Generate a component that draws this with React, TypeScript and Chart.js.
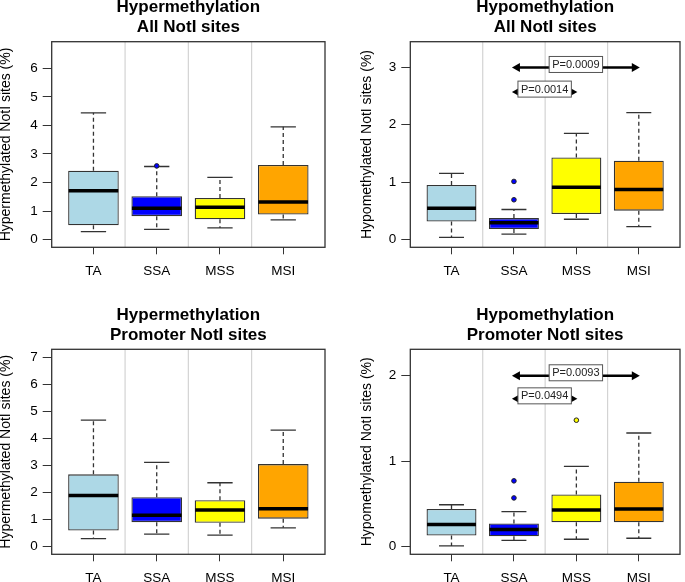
import React, { useEffect, useRef } from 'react';
import { Chart, registerables } from 'chart.js';

Chart.register(...registerables);

const FONT = '"Liberation Sans", Arial, Helvetica, sans-serif';

const CATEGORIES = ['TA', 'SSA', 'MSS', 'MSI'];
const BOX_COLORS = ['#ADD8E6', '#0000FF', '#FFFF00', '#FFA500'];

// Hypermethylation – All NotI sites
const HYPER_ALL_LOW = [0.28, 0.36, 0.41, 0.69];
const HYPER_ALL_Q1 = [0.5, 0.82, 0.71, 0.88];
const HYPER_ALL_MED = [1.71, 1.1, 1.13, 1.32];
const HYPER_ALL_Q3 = [2.41, 1.52, 1.46, 2.61];
const HYPER_ALL_HIGH = [4.44, 2.56, 2.18, 3.95];
const HYPER_ALL_OUT = [[], [2.58], [], []];
const HYPER_ALL_TICKS = [0, 1, 2, 3, 4, 5, 6];
const HYPER_ALL_RANGE = [-0.27, 6.93];

// Hypomethylation – All NotI sites
const HYPO_ALL_LOW = [0.035, 0.09, 0.35, 0.22];
const HYPO_ALL_Q1 = [0.31, 0.18, 0.44, 0.5];
const HYPO_ALL_MED = [0.54, 0.29, 0.91, 0.87];
const HYPO_ALL_Q3 = [0.95, 0.37, 1.43, 1.37];
const HYPO_ALL_HIGH = [1.15, 0.52, 1.85, 2.21];
const HYPO_ALL_OUT = [[], [1.01, 0.69], [], []];
const HYPO_ALL_TICKS = [0, 1, 2, 3];
const HYPO_ALL_RANGE = [-0.14, 3.45];
const HYPO_ALL_P_FROM = ['SSA', 'SSA'];
const HYPO_ALL_P_TO = ['MSI', 'MSS'];
const HYPO_ALL_P_Y = [3.0, 2.57];
const HYPO_ALL_P_LABEL = ['P=0.0009', 'P=0.0014'];

// Hypermethylation – Promoter NotI sites
const HYPER_PROM_LOW = [0.3, 0.47, 0.43, 0.7];
const HYPER_PROM_Q1 = [0.6, 0.91, 0.89, 1.04];
const HYPER_PROM_MED = [1.9, 1.17, 1.36, 1.41];
const HYPER_PROM_Q3 = [2.68, 1.83, 1.72, 3.06];
const HYPER_PROM_HIGH = [4.69, 3.12, 2.37, 4.32];
const HYPER_PROM_OUT = [[], [], [], []];
const HYPER_PROM_TICKS = [0, 1, 2, 3, 4, 5, 6, 7];
const HYPER_PROM_RANGE = [-0.28, 7.31];

// Hypomethylation – Promoter NotI sites
const HYPO_PROM_LOW = [0.008, 0.074, 0.086, 0.098];
const HYPO_PROM_Q1 = [0.13, 0.12, 0.285, 0.285];
const HYPO_PROM_MED = [0.26, 0.2, 0.43, 0.44];
const HYPO_PROM_Q3 = [0.44, 0.27, 0.61, 0.76];
const HYPO_PROM_HIGH = [0.49, 0.41, 0.94, 1.33];
const HYPO_PROM_OUT = [[], [0.77, 0.57], [1.48], []];
const HYPO_PROM_TICKS = [0, 1, 2];
const HYPO_PROM_RANGE = [-0.09, 2.31];
const HYPO_PROM_P_FROM = ['SSA', 'SSA'];
const HYPO_PROM_P_TO = ['MSI', 'MSS'];
const HYPO_PROM_P_Y = [2.0, 1.73];
const HYPO_PROM_P_LABEL = ['P=0.0093', 'P=0.0494'];

const HYPER_Y_TITLE = 'Hypermethylated NotI sites (%)';
const HYPO_Y_TITLE = 'Hypomethylated NotI sites (%)';

type Panel = {
  title: string[];
  yTitle: string;
  low: number[];
  q1: number[];
  med: number[];
  q3: number[];
  high: number[];
  out: number[][];
  ticks: number[];
  range: number[];
  pFrom?: string[];
  pTo?: string[];
  pY?: number[];
  pLabel?: string[];
  canvas: { x: number; y: number; w: number; h: number };
  plot: { l: number; t: number; r: number; b: number };
  titleMid: number;
  yTitleX: number;
};

const PANELS: Panel[] = [
  {
    title: ['Hypermethylation', 'All NotI sites'],
    yTitle: HYPER_Y_TITLE,
    low: HYPER_ALL_LOW, q1: HYPER_ALL_Q1, med: HYPER_ALL_MED, q3: HYPER_ALL_Q3, high: HYPER_ALL_HIGH,
    out: HYPER_ALL_OUT, ticks: HYPER_ALL_TICKS, range: HYPER_ALL_RANGE,
    canvas: { x: 0, y: -4, w: 342, h: 294 },
    plot: { l: 51.7, t: 41.7, r: 325, b: 247.3 },
    titleMid: 7.5,
    yTitleX: 6.5,
  },
  {
    title: ['Hypomethylation', 'All NotI sites'],
    yTitle: HYPO_Y_TITLE,
    low: HYPO_ALL_LOW, q1: HYPO_ALL_Q1, med: HYPO_ALL_MED, q3: HYPO_ALL_Q3, high: HYPO_ALL_HIGH,
    out: HYPO_ALL_OUT, ticks: HYPO_ALL_TICKS, range: HYPO_ALL_RANGE,
    pFrom: HYPO_ALL_P_FROM, pTo: HYPO_ALL_P_TO, pY: HYPO_ALL_P_Y, pLabel: HYPO_ALL_P_LABEL,
    canvas: { x: 342, y: -4, w: 343, h: 294 },
    plot: { l: 410.3, t: 41.7, r: 684.7, b: 247.3 },
    titleMid: 7.5,
    yTitleX: 367,
  },
  {
    title: ['Hypermethylation', 'Promoter NotI sites'],
    yTitle: HYPER_Y_TITLE,
    low: HYPER_PROM_LOW, q1: HYPER_PROM_Q1, med: HYPER_PROM_MED, q3: HYPER_PROM_Q3, high: HYPER_PROM_HIGH,
    out: HYPER_PROM_OUT, ticks: HYPER_PROM_TICKS, range: HYPER_PROM_RANGE,
    canvas: { x: 0, y: 290, w: 342, h: 292 },
    plot: { l: 51.7, t: 349.3, r: 325, b: 554.3 },
    titleMid: 315.6,
    yTitleX: 6.5,
  },
  {
    title: ['Hypomethylation', 'Promoter NotI sites'],
    yTitle: HYPO_Y_TITLE,
    low: HYPO_PROM_LOW, q1: HYPO_PROM_Q1, med: HYPO_PROM_MED, q3: HYPO_PROM_Q3, high: HYPO_PROM_HIGH,
    out: HYPO_PROM_OUT, ticks: HYPO_PROM_TICKS, range: HYPO_PROM_RANGE,
    pFrom: HYPO_PROM_P_FROM, pTo: HYPO_PROM_P_TO, pY: HYPO_PROM_P_Y, pLabel: HYPO_PROM_P_LABEL,
    canvas: { x: 342, y: 290, w: 343, h: 292 },
    plot: { l: 410.3, t: 349.3, r: 684.7, b: 554.3 },
    titleMid: 315.6,
    yTitleX: 367,
  },
];

const TITLE_SIZE = 17;
const TITLE_LH = 20;
const Y_TITLE_SIZE = 14;
const BOX_DATASET_INDEX = 1;

function makePlugin(p: Panel) {
  return {
    id: 'boxExtras',
    beforeDatasetsDraw(chart: any) {
      const { ctx, chartArea: a } = chart;
      const x = chart.scales.x;
      const y = chart.scales.y;
      ctx.save();
      ctx.strokeStyle = '#d3d3d3';
      ctx.lineWidth = 1.2;
      for (let i = 0; i < CATEGORIES.length - 1; i++) {
        const px = x.getPixelForValue(i + 1.5);
        ctx.beginPath();
        ctx.moveTo(px, a.top);
        ctx.lineTo(px, a.bottom);
        ctx.stroke();
      }
      const meta = chart.getDatasetMeta(BOX_DATASET_INDEX);
      ctx.strokeStyle = '#333';
      ctx.lineWidth = 1.3;
      for (let i = 0; i < CATEGORIES.length; i++) {
        const px = x.getPixelForValue(i + 1);
        const w = meta.data[i].width;
        const yLo = y.getPixelForValue(p.low[i]);
        const yHi = y.getPixelForValue(p.high[i]);
        const yQ1 = y.getPixelForValue(p.q1[i]);
        const yQ3 = y.getPixelForValue(p.q3[i]);
        ctx.setLineDash([4, 3]);
        ctx.beginPath();
        ctx.moveTo(px, yQ3);
        ctx.lineTo(px, yHi);
        ctx.moveTo(px, yQ1);
        ctx.lineTo(px, yLo);
        ctx.stroke();
        ctx.setLineDash([]);
        ctx.beginPath();
        ctx.moveTo(px - w / 4, yHi);
        ctx.lineTo(px + w / 4, yHi);
        ctx.moveTo(px - w / 4, yLo);
        ctx.lineTo(px + w / 4, yLo);
        ctx.stroke();
      }
      ctx.restore();
    },
    afterDatasetsDraw(chart: any) {
      const { ctx, chartArea: a } = chart;
      const x = chart.scales.x;
      const y = chart.scales.y;
      const meta = chart.getDatasetMeta(BOX_DATASET_INDEX);
      ctx.save();
      ctx.strokeStyle = '#000';
      ctx.lineWidth = 3.5;
      ctx.lineCap = 'butt';
      for (let i = 0; i < CATEGORIES.length; i++) {
        const px = x.getPixelForValue(i + 1);
        const w = meta.data[i].width;
        const ym = y.getPixelForValue(p.med[i]);
        ctx.beginPath();
        ctx.moveTo(px - w / 2 + 0.5, ym);
        ctx.lineTo(px + w / 2 - 0.5, ym);
        ctx.stroke();
      }
      ctx.strokeStyle = '#333';
      ctx.lineWidth = 1.3;
      ctx.strokeRect(a.left, a.top, a.right - a.left, a.bottom - a.top);
      if (p.pFrom && p.pTo && p.pY && p.pLabel) {
        const HEAD_LEN = 8;
        const HEAD_W = 4.5;
        for (let k = 0; k < p.pFrom.length; k++) {
          const x1 = x.getPixelForValue(CATEGORIES.indexOf(p.pFrom[k]) + 1) - 2;
          const x2 = x.getPixelForValue(CATEGORIES.indexOf(p.pTo[k]) + 1) + 1;
          const yv = y.getPixelForValue(p.pY[k]);
          ctx.fillStyle = '#000';
          ctx.strokeStyle = '#000';
          ctx.lineWidth = 2.6;
          ctx.beginPath();
          ctx.moveTo(x1 + HEAD_LEN - 1, yv);
          ctx.lineTo(x2 - HEAD_LEN + 1, yv);
          ctx.stroke();
          ctx.beginPath();
          ctx.moveTo(x1, yv);
          ctx.lineTo(x1 + HEAD_LEN, yv - HEAD_W);
          ctx.lineTo(x1 + HEAD_LEN, yv + HEAD_W);
          ctx.closePath();
          ctx.fill();
          ctx.beginPath();
          ctx.moveTo(x2, yv);
          ctx.lineTo(x2 - HEAD_LEN, yv - HEAD_W);
          ctx.lineTo(x2 - HEAD_LEN, yv + HEAD_W);
          ctx.closePath();
          ctx.fill();
          ctx.font = `11px ${FONT}`;
          const label = p.pLabel[k];
          const tw = ctx.measureText(label).width;
          const cx = (x1 + x2) / 2;
          const cy = yv - 3;
          const bw = tw + 6;
          const bh = 16;
          ctx.fillStyle = '#fff';
          ctx.fillRect(cx - bw / 2, cy - bh / 2, bw, bh);
          ctx.strokeStyle = '#555';
          ctx.lineWidth = 1;
          ctx.strokeRect(cx - bw / 2, cy - bh / 2, bw, bh);
          ctx.fillStyle = '#222';
          ctx.textAlign = 'center';
          ctx.textBaseline = 'middle';
          ctx.fillText(label, cx, cy + 0.5);
        }
      }
      ctx.restore();
    },
  };
}

function PanelChart({ p }: { p: Panel }) {
  const ref = useRef<HTMLCanvasElement | null>(null);
  useEffect(() => {
    if (!ref.current) return;
    const c = p.canvas;
    const padL = 0;
    const padR = c.x + c.w - p.plot.r;
    const yW = p.plot.l - c.x - padL;
    const xH = c.y + c.h - p.plot.b;
    const tPadTop = p.titleMid - c.y - TITLE_LH / 2;
    const tPadBottom = p.plot.t - c.y - tPadTop - TITLE_LH * p.title.length;
    const yTitlePad = p.yTitleX - c.x - padL - Y_TITLE_SIZE / 2;

    const outPoints: { x: number; y: number }[] = [];
    const outColors: string[] = [];
    p.out.forEach((vals, i) =>
      vals.forEach((v) => {
        outPoints.push({ x: i + 1, y: v });
        outColors.push(BOX_COLORS[i]);
      })
    );

    const chart = new Chart(ref.current, {
      type: 'bar',
      data: {
        datasets: [
          {
            type: 'scatter',
            data: outPoints,
            pointRadius: 2.3,
            pointBackgroundColor: outColors,
            pointBorderColor: '#222',
            pointBorderWidth: 1,
          } as any,
          {
            type: 'bar',
            data: CATEGORIES.map((_, i) => ({ x: i + 1, y: [p.q1[i], p.q3[i]] })),
            backgroundColor: BOX_COLORS,
            borderColor: '#333',
            borderWidth: 1.3,
            borderSkipped: false,
            barPercentage: 0.8,
            categoryPercentage: 1,
          } as any,
        ],
      },
      options: {
        animation: false,
        responsive: false,
        maintainAspectRatio: false,
        events: [],
        layout: { padding: { left: padL, right: padR, top: 0, bottom: 0 } },
        plugins: {
          legend: { display: false },
          tooltip: { enabled: false },
          title: {
            display: true,
            text: p.title,
            fullSize: false,
            color: '#000',
            font: { family: FONT, size: TITLE_SIZE, weight: 'bold', lineHeight: TITLE_LH / TITLE_SIZE },
            padding: { top: tPadTop, bottom: tPadBottom },
          },
        },
        scales: {
          x: {
            type: 'linear',
            min: 0.34,
            max: 4.66,
            offset: false,
            afterBuildTicks: (s: any) => {
              s.ticks = CATEGORIES.map((_, i) => ({ value: i + 1 }));
            },
            afterFit: (s: any) => {
              s.height = xH;
            },
            ticks: {
              callback: (v: any) => CATEGORIES[Math.round(Number(v)) - 1],
              font: { family: FONT, size: 13.5 },
              color: '#000',
              padding: 8.5,
              maxRotation: 0,
              autoSkip: false,
            },
            grid: { offset: false, drawOnChartArea: false, drawTicks: true, tickLength: 7, color: '#333', lineWidth: 1 },
            border: { display: false },
          },
          y: {
            type: 'linear',
            min: p.range[0],
            max: p.range[1],
            afterBuildTicks: (s: any) => {
              s.ticks = p.ticks.map((v) => ({ value: v }));
            },
            afterFit: (s: any) => {
              s.width = yW;
            },
            ticks: { font: { family: FONT, size: 13.5 }, color: '#000', padding: 5 },
            grid: { drawOnChartArea: false, drawTicks: true, tickLength: 9, color: '#333', lineWidth: 1 },
            border: { display: false },
            title: {
              display: true,
              text: p.yTitle,
              color: '#000',
              font: { family: FONT, size: Y_TITLE_SIZE, lineHeight: 1 },
              padding: { top: yTitlePad, bottom: 0 },
            },
          },
        },
      } as any,
      plugins: [makePlugin(p)],
    });
    return () => chart.destroy();
  }, [p]);
  const c = p.canvas;
  return (
    <canvas
      ref={ref}
      width={c.w}
      height={c.h}
      style={{ position: 'absolute', left: c.x, top: c.y, width: c.w, height: c.h }}
    />
  );
}

export default function App() {
  return (
    <div style={{ position: 'absolute', left: 0, top: 0, width: 685, height: 582, background: '#fff', overflow: 'hidden' }}>
      {PANELS.map((p, i) => (
        <PanelChart key={i} p={p} />
      ))}
    </div>
  );
}
